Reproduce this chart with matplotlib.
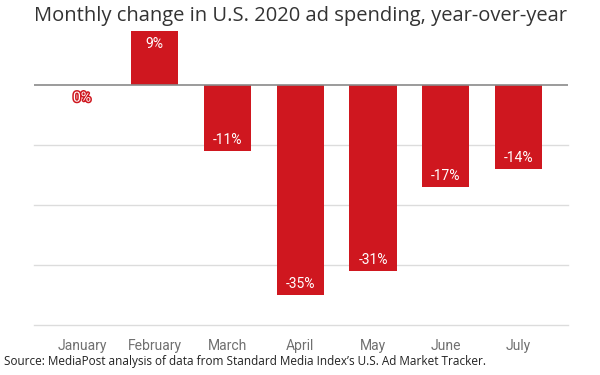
import matplotlib
matplotlib.use('Agg')
import matplotlib.pyplot as plt
import matplotlib.patheffects as pe

months = ['January', 'February', 'March', 'April', 'May', 'June', 'July']
change = [0, 9, -11, -35, -31, -17, -14]
labels = ['0%', '9%', '-11%', '-35%', '-31%', '-17%', '-14%']

red = '#cf171f'

fig = plt.figure(figsize=(6, 3.75), dpi=100)
ax = fig.add_axes([34 / 600, 1 - 325 / 375, 534 / 600, 300 / 375])

x = range(len(months))
bars = ax.bar(x, change, width=0.65, color=red, zorder=3)

ax.set_ylim(-40, 10)
ax.set_xlim(-0.66, 6.68)
for g in [-40, -30, -20, -10]:
    ax.axhline(g, color='#dcdcdc', lw=1, zorder=1, clip_on=False)
ax.axhline(0, color='#8a8a8a', lw=1.2, zorder=4)

for i, (v, lab) in enumerate(zip(change, labels)):
    if v > 0:
        y = v - 2.1
    elif v < 0:
        y = v + 1.9
    else:
        y = -2.1
    t = ax.text(i, y, lab, ha='center', va='center', color='white',
                fontsize=10, family='Roboto', zorder=5)
    if v == 0:
        t.set_path_effects([pe.withStroke(linewidth=2.2, foreground=red)])

ax.set_xticks(list(x))
ax.set_xticklabels(months, family='Roboto', fontsize=10, color='#707070')
ax.tick_params(axis='x', length=0, pad=10)
ax.set_yticks([])
for s in ax.spines.values():
    s.set_visible(False)

fig.text(0.5, 1 - 16 / 375, 'Monthly change in U.S. 2020 ad spending, year-over-year',
         ha='center', va='center', fontsize=14.5, family='Open Sans', color='#333333')
fig.text(4 / 600, 1 - 362 / 375,
         'Source: MediaPost analysis of data from Standard Media Index\u2019s U.S. Ad Market Tracker.',
         ha='left', va='center', fontsize=8.5, family='Open Sans', color='#222222')

fig.savefig('out.png', dpi=100)
